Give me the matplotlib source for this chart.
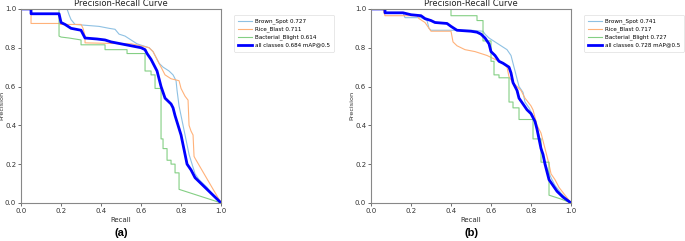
import numpy as np
import matplotlib
matplotlib.use("Agg")
import matplotlib.pyplot as plt

# panel (a)
a_brown_r = [0, 0.23, 0.24, 0.25, 0.27, 0.39, 0.44, 0.47, 0.49, 0.52, 0.55, 0.58, 0.61, 0.64, 0.66, 0.675,
             0.69, 0.71, 0.74, 0.76, 0.775, 0.78, 0.79, 0.80, 0.81, 0.82, 0.83, 0.84, 0.855, 0.87, 0.89, 0.93, 0.96, 1.0]
a_brown_p = [1.0, 1.0, 0.97, 0.945, 0.92, 0.91, 0.90, 0.895, 0.87, 0.86, 0.84, 0.82, 0.81, 0.80, 0.78, 0.75,
             0.72, 0.70, 0.68, 0.66, 0.63, 0.58, 0.50, 0.45, 0.40, 0.35, 0.30, 0.25, 0.20, 0.15, 0.12, 0.08, 0.04, 0.0]
a_rice_r = [0, 0.05, 0.05, 0.195, 0.195, 0.30, 0.31, 0.32, 0.32, 0.55, 0.60, 0.64, 0.66, 0.68, 0.70, 0.72,
            0.75, 0.79, 0.80, 0.82, 0.835, 0.84, 0.85, 0.86, 0.865, 0.87, 1.0]
a_rice_p = [1.0, 1.0, 0.925, 0.925, 0.92, 0.92, 0.90, 0.86, 0.825, 0.82, 0.81, 0.80, 0.78, 0.74, 0.70, 0.66,
            0.64, 0.63, 0.59, 0.55, 0.53, 0.40, 0.37, 0.35, 0.24, 0.23, 0.0]
a_bact_r = [0, 0.19, 0.19, 0.20, 0.24, 0.30, 0.30, 0.42, 0.42, 0.53, 0.53, 0.62, 0.62, 0.65, 0.65, 0.67, 0.67,
            0.70, 0.70, 0.71, 0.71, 0.73, 0.73, 0.75, 0.75, 0.77, 0.77, 0.79, 0.79, 1.0]
a_bact_p = [1.0, 1.0, 0.86, 0.855, 0.85, 0.84, 0.815, 0.815, 0.79, 0.79, 0.77, 0.77, 0.68, 0.68, 0.66, 0.66, 0.59,
            0.59, 0.33, 0.33, 0.28, 0.28, 0.22, 0.22, 0.20, 0.20, 0.155, 0.155, 0.07, 0.0]
a_all_r = [0, 0.05, 0.05, 0.19, 0.20, 0.22, 0.25, 0.30, 0.31, 0.32, 0.38, 0.42, 0.45, 0.50, 0.55, 0.60, 0.62,
           0.63, 0.65, 0.66, 0.68, 0.69, 0.70, 0.71, 0.72, 0.75, 0.76, 0.77, 0.785, 0.80, 0.81, 0.82, 0.83, 0.85,
           0.87, 0.90, 0.94, 0.97, 1.0]
a_all_p = [1.0, 1.0, 0.975, 0.975, 0.93, 0.92, 0.90, 0.89, 0.87, 0.85, 0.845, 0.84, 0.83, 0.82, 0.81, 0.80, 0.79,
           0.77, 0.74, 0.72, 0.68, 0.64, 0.60, 0.57, 0.54, 0.51, 0.49, 0.45, 0.40, 0.35, 0.30, 0.25, 0.20, 0.17,
           0.13, 0.10, 0.06, 0.03, 0.0]

# panel (b)
b_brown_r = [0, 0.06, 0.07, 0.16, 0.17, 0.25, 0.28, 0.29, 0.30, 0.50, 0.56, 0.57, 0.59, 0.62, 0.65, 0.68, 0.70,
             0.71, 0.72, 0.73, 0.74, 0.76, 0.77, 0.79, 0.81, 0.825, 0.84, 0.85, 0.86, 0.88, 0.90, 0.92, 0.95, 0.98, 1.0]
b_brown_p = [1.0, 1.0, 0.98, 0.98, 0.955, 0.955, 0.94, 0.90, 0.89, 0.89, 0.885, 0.87, 0.85, 0.83, 0.81, 0.79, 0.76,
             0.72, 0.68, 0.64, 0.60, 0.57, 0.52, 0.49, 0.45, 0.40, 0.35, 0.30, 0.24, 0.18, 0.13, 0.09, 0.05, 0.02, 0.0]
b_rice_r = [0, 0.06, 0.07, 0.23, 0.24, 0.27, 0.29, 0.30, 0.40, 0.41, 0.43, 0.47, 0.52, 0.55, 0.58, 0.62, 0.66,
            0.68, 0.69, 0.71, 0.73, 0.75, 0.77, 0.80, 0.81, 0.83, 0.85, 0.86, 0.87, 0.88, 0.89, 0.90, 0.92, 0.94,
            0.97, 1.0]
b_rice_p = [1.0, 1.0, 0.965, 0.965, 0.95, 0.93, 0.90, 0.885, 0.885, 0.83, 0.81, 0.79, 0.78, 0.77, 0.76, 0.74, 0.72,
            0.70, 0.65, 0.62, 0.60, 0.58, 0.54, 0.50, 0.48, 0.40, 0.36, 0.32, 0.28, 0.24, 0.20, 0.15, 0.12, 0.08,
            0.04, 0.0]
b_bact_r = [0, 0.40, 0.40, 0.53, 0.53, 0.56, 0.56, 0.60, 0.60, 0.615, 0.615, 0.64, 0.64, 0.69, 0.69, 0.71, 0.71,
            0.74, 0.74, 0.81, 0.81, 0.85, 0.85, 0.89, 0.89, 0.95, 1.0]
b_bact_p = [1.0, 1.0, 0.965, 0.965, 0.94, 0.94, 0.835, 0.835, 0.73, 0.73, 0.66, 0.66, 0.645, 0.645, 0.52, 0.52, 0.49,
            0.49, 0.43, 0.43, 0.33, 0.33, 0.21, 0.21, 0.04, 0.02, 0.0]
b_all_r = [0, 0.07, 0.07, 0.16, 0.20, 0.25, 0.27, 0.30, 0.32, 0.38, 0.40, 0.43, 0.50, 0.53, 0.55, 0.57, 0.59, 0.60,
           0.62, 0.64, 0.66, 0.69, 0.70, 0.71, 0.73, 0.74, 0.76, 0.78, 0.80, 0.82, 0.83, 0.84, 0.85, 0.86, 0.87,
           0.88, 0.89, 0.91, 0.93, 0.96, 1.0]
b_all_p = [1.0, 1.0, 0.98, 0.98, 0.97, 0.965, 0.95, 0.94, 0.93, 0.925, 0.91, 0.89, 0.885, 0.88, 0.87, 0.85, 0.82, 0.78,
           0.76, 0.73, 0.72, 0.70, 0.67, 0.62, 0.58, 0.54, 0.51, 0.48, 0.46, 0.42, 0.38, 0.33, 0.28, 0.25, 0.20,
           0.16, 0.12, 0.09, 0.06, 0.03, 0.0]

names = ["Brown_Spot", "Rice_Blast", "Bacterial_Blight"]
a_ap = [0.727, 0.711, 0.614]
b_ap = [0.741, 0.717, 0.727]
a_map = 0.684
b_map = 0.728

panels = [
    ("(a)", [(a_brown_r, a_brown_p), (a_rice_r, a_rice_p), (a_bact_r, a_bact_p)], (a_all_r, a_all_p), a_ap, a_map),
    ("(b)", [(b_brown_r, b_brown_p), (b_rice_r, b_rice_p), (b_bact_r, b_bact_p)], (b_all_r, b_all_p), b_ap, b_map),
]
colors = ["#8ec1e3", "#ffb27a", "#84cf84"]
lefts = [0.0307, 0.5416]

fig = plt.figure(figsize=(6.85, 2.41), dpi=100)
for (tag, curves, allc, ap, mp), left in zip(panels, lefts):
    ax = fig.add_axes([left, 0.158, 0.292, 0.805])
    for (r, p), name, v, c in zip(curves, names, ap, colors):
        ax.plot(r, p, color=c, linewidth=0.8, label=f"{name} {v:.3f}")
    ax.plot(allc[0], allc[1], color="blue", linewidth=2, label=f"all classes {mp:.3f} mAP@0.5")
    ax.set_xlim(0, 1)
    ax.set_ylim(0, 1)
    ax.set_xticks(np.arange(0, 1.01, 0.2))
    ax.set_yticks(np.arange(0, 1.01, 0.2))
    ax.tick_params(labelsize=5, length=2, width=0.5, pad=1.5, colors="#333333")
    for s in ax.spines.values():
        s.set_color("#888888")
        s.set_linewidth(0.8)
    ax.set_xlabel("Recall", fontsize=5, labelpad=2, color="#333333")
    ax.set_ylabel("Precision", fontsize=4.6, labelpad=0.5, color="#333333")
    ax.set_title("Precision-Recall Curve", fontsize=6, pad=2, color="#222222")
    leg = ax.legend(loc="upper left", bbox_to_anchor=(1.05, 0.985), fontsize=4.1, frameon=True,
                    borderpad=0.7, handlelength=2.4, handletextpad=0.6, labelspacing=0.4, fancybox=True)
    leg.get_frame().set_linewidth(0.4)
    fig.text(left + 0.146, 0.035, tag, fontsize=8, fontweight="bold", ha="center", va="center",
             family="Liberation Sans")

fig.savefig("out.png", dpi=100)
